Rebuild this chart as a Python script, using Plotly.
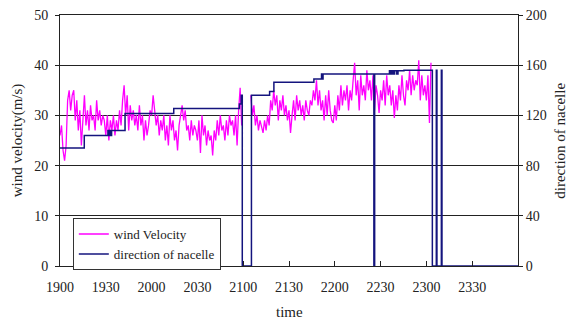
import plotly.graph_objects as go

# time axis: minutes after 19:00
tick_vals = [0, 30, 60, 90, 120, 150, 180, 210, 240, 270]
tick_text = ["1900", "1930", "2000", "2030", "2100", "2130", "2200", "2230", "2300", "2330"]

# wind velocity, one reading per minute from 19:00 (None = missing)
wind_velocity = [
    26, 28, 23, 21, 24, 33, 35, 31, 34, 35,
    29, 33, 27, 31, 24, 30, 34, 28, 31, 27,
    32, 29, 30, 27, 33, 29, 31, 28, 30, 29,
    26, 30, 25, 29, 27, 30, 26, 29, 27, 31,
    28, 33, 36, 30, 34, 27, 32, 29, 31, 28,
    30, 27, 32, 28, 30, 25, 29, 26, 28, 31,
    30, 34, 31, 28, 30, 26, 29, 27, 30, 25,
    28, 24, 30, 27, 29, 25, 27, 23, 28, 30,
    32, 29, 31, 27, 28, 25, 29, 26, 28, 27,
    25, 29, 22.5, 30, 26, 28, 24, 27, 25, 26,
    22, 27, 25, 29, 26, 30, 27, 28, 25, 29,
    26, 30, 28, 29, 26, 30, 24, 31, 35.5, 28,
    None, None, None, None, None, 34, 30, 32, 28, 30,
    27, 29, 28, 26.5, 29, 27, 30, 28, 33, 31,
    35, 32, 34, 29, 33, 31, 34, 30, 32, 29,
    31, 26.5, 30, 33, 29, 34, 31, 33, 30, 32,
    29, 33, 31, 30, 33, 32, 35, 33, 37, 32,
    35, 31, 33, 29, 34, 30, 35, 31, 29, 28.5,
    32, 29, 34, 31, 36, 32, 35, 33, 36, 31,
    35, 33, 37, 40.5, 34, 37, 31, 38, 34, 36,
    33, 39, 35, 37, 33, 38, 31, 36, 34, 30.5,
    35, 33, 37, 32, 38, 34, 36, 32, 35, 29.5,
    34, 31, 36, 33, 38, 34, 32, 37, 35, 39,
    34, 38, 35, 37, 36, 41, 33, 38, 34, 36,
    33, 38, 28.5, 40.5,
]
wind_time = list(range(len(wind_velocity)))

# nacelle direction (degrees), step changes
dir_time = [0, 15.9, 31.4, 32.0, 32.6, 33.2, 33.8, 42.6, 74.5, 117.5, 118.7, 119.4,
            125.4, 137.3, 140.1, 166.3, 171.3, 171.8, 172.3, 205.6, 206.1,
            215.8, 216.6, 217.4, 218.4, 219.2, 220.6, 221.4, 225.3,
            243.9, 246.5, 246.9, 249.8, 250.2, 300]
dir_value = [94, 104, 108, 104, 108, 104, 108, 121.5, 125.5, 129, 136, 0,
             136, 139, 146.5, 149, 153, 149, 153, 0, 153,
             155.5, 153, 155.5, 153, 155.5, 153, 155.5, 156,
             0, 156, 0, 156, 0, 0]

FONT = "Liberation Serif"

fig = go.Figure()
fig.add_trace(go.Scatter(
    x=wind_time, y=wind_velocity, name="wind Velocity", mode="lines",
    line=dict(color="#ff00ff", width=1.3), connectgaps=False,
))
fig.add_trace(go.Scatter(
    x=dir_time, y=dir_value, name="direction of nacelle", mode="lines",
    line=dict(color="#14147e", width=1.5, shape="hv"), yaxis="y2",
))

fig.update_layout(
    width=571, height=320,
    margin=dict(l=60, r=53, t=15, b=54, autoexpand=False),
    paper_bgcolor="white", plot_bgcolor="white",
    font=dict(family=FONT, size=14, color="#222"),
    showlegend=True,
    legend=dict(x=0.028, y=0.191, xanchor="left", yanchor="top",
                bordercolor="#333", borderwidth=1, bgcolor="white",
                font=dict(family=FONT, size=13), tracegroupgap=0),
    xaxis=dict(range=[0, 300], tickvals=tick_vals, ticktext=tick_text,
               ticks="inside", ticklen=5, tickcolor="#222", automargin=False,
               ticklabelstandoff=8,
               showgrid=False, zeroline=False, showline=True, linecolor="#222",
               linewidth=1, mirror=True),
    yaxis=dict(range=[0, 50], tickvals=[0, 10, 20, 30, 40, 50],
               ticks="outside", ticklen=4, tickcolor="#222", automargin=False,
               ticklabelstandoff=4,
               showgrid=True, gridcolor="#222", gridwidth=1, zeroline=False,
               showline=True, linecolor="#222", linewidth=1),
    yaxis2=dict(range=[0, 200], tickvals=[0, 40, 80, 120, 160, 200],
                overlaying="y", side="right", ticks="outside", ticklen=4, tickcolor="#222",
                showgrid=False, zeroline=False, showline=True, linecolor="#222", linewidth=1,
                automargin=False),
    annotations=[
        dict(text="wind velocity(m/s)", textangle=-90, xref="paper", yref="paper",
             x=-0.092, y=0.5, xanchor="center", yanchor="middle", showarrow=False,
             font=dict(family=FONT, size=15)),
        dict(text="direction of nacelle", textangle=-90, xref="paper", yref="paper",
             x=1.09, y=0.5, xanchor="center", yanchor="middle", showarrow=False,
             font=dict(family=FONT, size=15)),
        dict(text="time", xref="paper", yref="paper", x=0.5, y=-0.185,
             xanchor="center", yanchor="middle", showarrow=False,
             font=dict(family=FONT, size=15)),
    ],
)

fig.write_html("out.html", post_script="document.body.style.margin='0';",
               config={"displayModeBar": False})
